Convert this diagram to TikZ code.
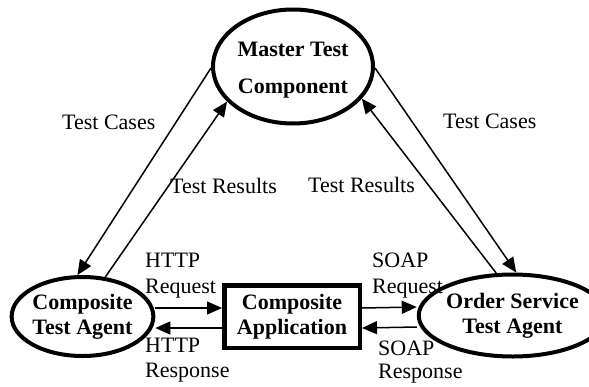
\documentclass[tikz,border=0pt]{standalone}
\usepackage{fontspec}
\setmainfont{Liberation Serif}
\usetikzlibrary{shapes.geometric,arrows.meta}

\begin{document}
\begin{tikzpicture}[x=1pt,y=-1pt,
	agent/.style={draw,ellipse,line width=4pt,inner sep=0pt,align=center,
		font=\fontsize{22}{25}\selectfont\bfseries},
	appbox/.style={draw,rectangle,line width=4.5pt,inner sep=0pt,align=center,
		font=\fontsize{22}{25}\selectfont\bfseries},
	lbl/.style={anchor=base west,inner sep=0pt,font=\fontsize{22}{25}\selectfont},
	arr/.style={line width=1.5pt,-{Triangle[length=15pt,width=13pt]}}]
	\useasboundingbox (0,0) rectangle (589,386);

	\node[agent,minimum width=160pt,minimum height=114pt] (master) at (293,66.5)
		{\rule{0pt}{22pt}Master Test\\[12pt]Component};
	\node[agent,minimum width=133pt,minimum height=79pt] (cta) at (82.5,316.5)
		{Composite\\Test Agent};
	\node[agent,minimum width=147pt,minimum height=82pt] (osta) at (512.5,315.5)
		{Order Service\\Test Agent};
	\node[appbox,minimum width=135.5pt,minimum height=62.5pt] (app) at (292,316.5)
		{Composite\\Application};

	% master <-> agents
	\draw[arr] (master.181) -- (cta.97);
	\draw[arr] (cta.60) -- (master.208);
	\draw[arr] (master.359) -- (osta.85);
	\draw[arr] (osta.111) -- (master.335);

	% requests and responses
	\draw[arr] ([yshift=8.5pt]cta.east) -- ([yshift=8.5pt]app.west);
	\draw[arr] ([yshift=-11.5pt]app.west) -- ([yshift=-11.5pt]cta.east);
	\draw[arr] ([yshift=8.5pt]app.east) -- ([yshift=8.5pt]osta.west);
	\draw[arr] ([yshift=-11.5pt]osta.west) -- ([yshift=-11.5pt]app.east);

	\node[lbl] (tc1) at (62,129) {Test Cases};
	\node[lbl] (tr1) at (170,193) {Test Results};
	\node[lbl] (tc2) at (443,128) {Test Cases};
	\node[lbl] (tr2) at (308,192) {Test Results};
	\node[lbl] (hq1) at (145,267) {HTTP};
	\node[lbl] (hq2) at (145,293) {Request};
	\node[lbl] (hr1) at (145,352) {HTTP};
	\node[lbl] (hr2) at (145,377) {Response};
	\node[lbl] (sq1) at (372,267) {SOAP};
	\node[lbl] (sq2) at (372,293) {Request};
	\node[lbl] (sr1) at (378,355) {SOAP};
	\node[lbl] (sr2) at (378,378) {Response};
\end{tikzpicture}
\end{document}
